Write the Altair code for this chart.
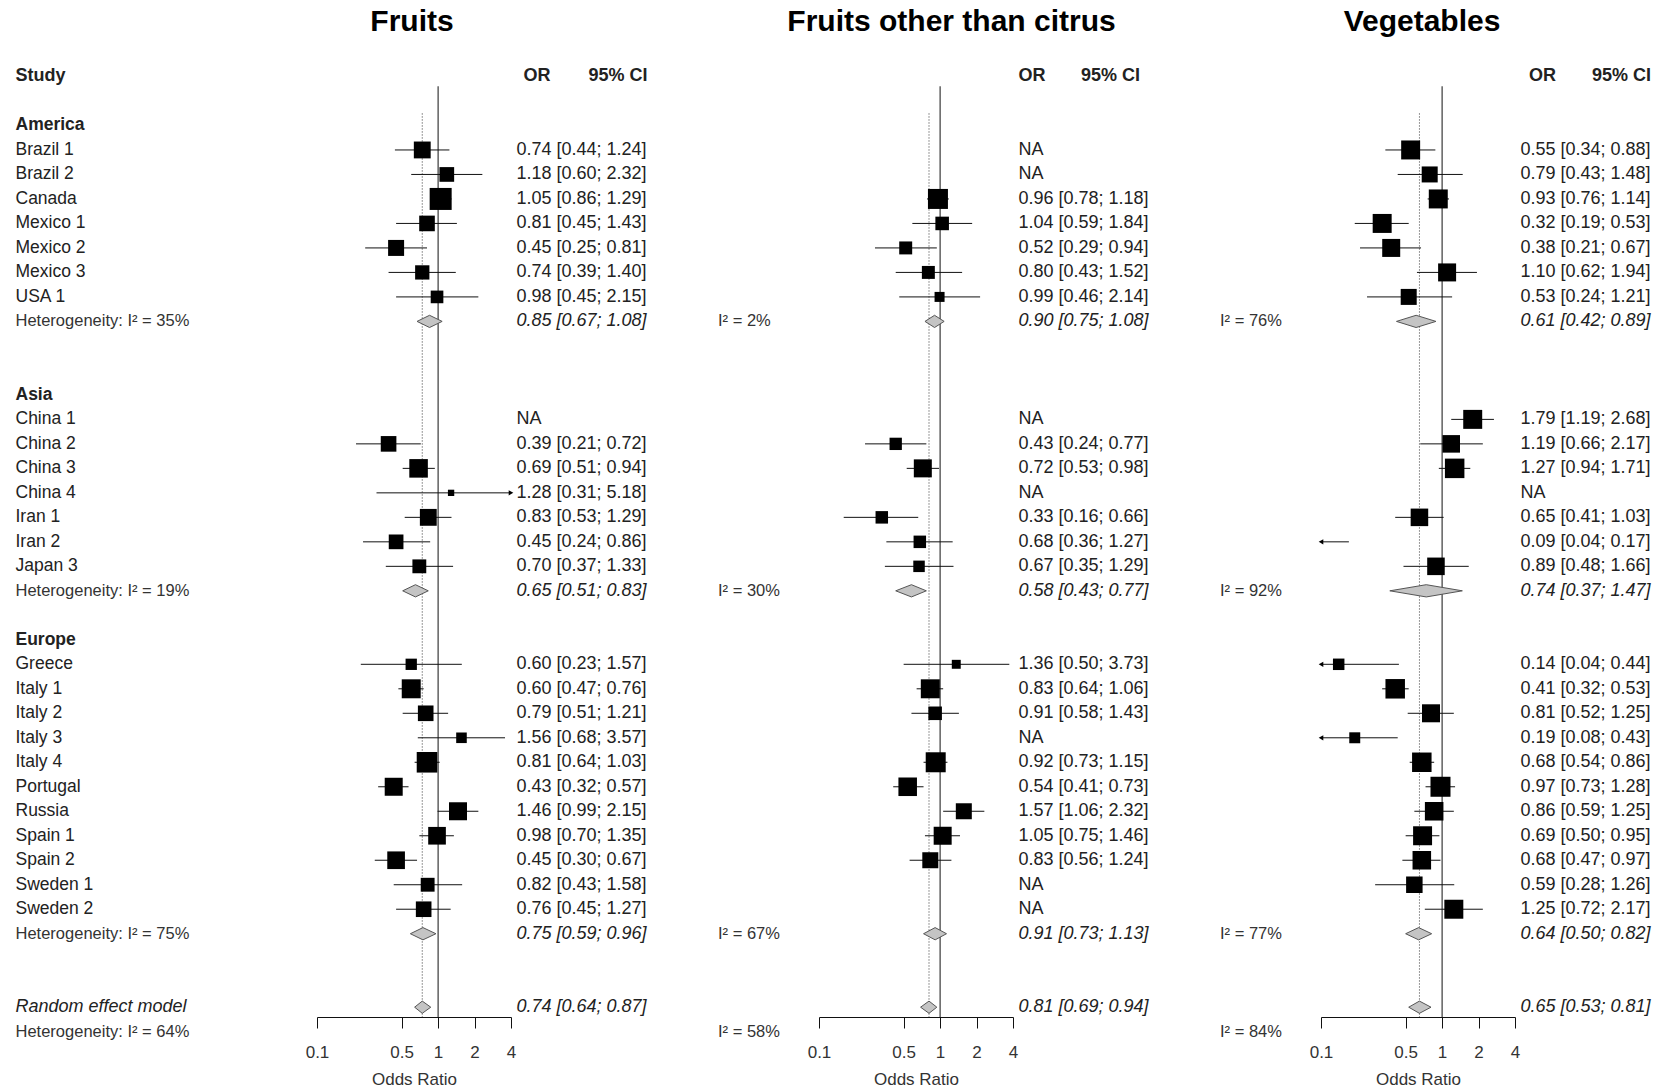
import altair as alt
import pandas as pd

FONT = "Liberation Sans"

PANELS = ["Fruits", "Fruits other than citrus", "Vegetables"]
REGIONS = ["America", "Asia", "Europe"]
STUDIES = [
    ["Brazil 1", "Brazil 2", "Canada", "Mexico 1", "Mexico 2", "Mexico 3", "USA 1"],
    ["China 1", "China 2", "China 3", "China 4", "Iran 1", "Iran 2", "Japan 3"],
    ["Greece", "Italy 1", "Italy 2", "Italy 3", "Italy 4", "Portugal", "Russia",
     "Spain 1", "Spain 2", "Sweden 1", "Sweden 2"],
]
N = None

# ---- Fruits ----
fr_or = [0.74, 1.18, 1.05, 0.81, 0.45, 0.74, 0.98,
         N, 0.39, 0.69, 1.28, 0.83, 0.45, 0.70,
         0.60, 0.60, 0.79, 1.56, 0.81, 0.43, 1.46, 0.98, 0.45, 0.82, 0.76]
fr_lo = [0.44, 0.60, 0.86, 0.45, 0.25, 0.39, 0.45,
         N, 0.21, 0.51, 0.31, 0.53, 0.24, 0.37,
         0.23, 0.47, 0.51, 0.68, 0.64, 0.32, 0.99, 0.70, 0.30, 0.43, 0.45]
fr_hi = [1.24, 2.32, 1.29, 1.43, 0.81, 1.40, 2.15,
         N, 0.72, 0.94, 5.18, 1.29, 0.86, 1.33,
         1.57, 0.76, 1.21, 3.57, 1.03, 0.57, 2.15, 1.35, 0.67, 1.58, 1.27]
fr_w = [7.1, 5.4, 12.1, 6.1, 6.4, 5.1, 4.0,
        N, 6.1, 8.6, 1.0, 7.1, 5.4, 4.8,
        3.2, 9.0, 6.1, 2.8, 10.6, 8.1, 8.1, 7.8, 7.8, 4.8, 6.1]
fr_pool = [(0.85, 0.67, 1.08), (0.65, 0.51, 0.83), (0.75, 0.59, 0.96)]
fr_i2 = [35, 19, 75]
fr_overall = (0.74, 0.64, 0.87)
fr_overall_i2 = 64

# ---- Fruits other than citrus ----
fo_or = [N, N, 0.96, 1.04, 0.52, 0.80, 0.99,
         N, 0.43, 0.72, N, 0.33, 0.68, 0.67,
         1.36, 0.83, 0.91, N, 0.92, 0.54, 1.57, 1.05, 0.83, N, N]
fo_lo = [N, N, 0.78, 0.59, 0.29, 0.43, 0.46,
         N, 0.24, 0.53, N, 0.16, 0.36, 0.35,
         0.50, 0.64, 0.58, N, 0.73, 0.41, 1.06, 0.75, 0.56, N, N]
fo_hi = [N, N, 1.18, 1.84, 0.94, 1.52, 2.14,
         N, 0.77, 0.98, N, 0.66, 1.27, 1.29,
         3.73, 1.06, 1.43, N, 1.15, 0.73, 2.32, 1.46, 1.24, N, N]
fo_w = [N, N, 10.0, 4.6, 4.2, 4.2, 2.5,
        N, 3.8, 8.1, N, 3.9, 3.9, 3.3,
        2.0, 9.0, 4.6, N, 10.0, 8.6, 6.4, 8.1, 6.4, N, N]
fo_pool = [(0.90, 0.75, 1.08), (0.58, 0.43, 0.77), (0.91, 0.73, 1.13)]
fo_i2 = [2, 30, 67]
fo_overall = (0.81, 0.69, 0.94)
fo_overall_i2 = 58

# ---- Vegetables ----
vg_or = [0.55, 0.79, 0.93, 0.32, 0.38, 1.10, 0.53,
         1.79, 1.19, 1.27, N, 0.65, 0.09, 0.89,
         0.14, 0.41, 0.81, 0.19, 0.68, 0.97, 0.86, 0.69, 0.68, 0.59, 1.25]
vg_lo = [0.34, 0.43, 0.76, 0.19, 0.21, 0.62, 0.24,
         1.19, 0.66, 0.94, N, 0.41, 0.04, 0.48,
         0.04, 0.32, 0.52, 0.08, 0.54, 0.73, 0.59, 0.50, 0.47, 0.28, 0.72]
vg_hi = [0.88, 1.48, 1.14, 0.53, 0.67, 1.94, 1.21,
         2.68, 2.17, 1.71, N, 1.03, 0.17, 1.66,
         0.44, 0.53, 1.25, 0.43, 0.86, 1.28, 1.25, 0.95, 0.97, 1.26, 2.17]
vg_w = [9.0, 6.4, 9.0, 9.0, 8.1, 8.1, 6.4,
        9.0, 7.7, 9.5, N, 7.7, 7.0, 7.7,
        3.3, 9.5, 8.1, 3.0, 9.5, 10.0, 8.6, 9.0, 8.6, 6.8, 9.0]
vg_pool = [(0.61, 0.42, 0.89), (0.74, 0.37, 1.47), (0.64, 0.50, 0.82)]
vg_i2 = [76, 92, 77]
vg_overall = (0.65, 0.53, 0.81)
vg_overall_i2 = 84

DATA = [
    (fr_or, fr_lo, fr_hi, fr_w, fr_pool, fr_i2, fr_overall, fr_overall_i2),
    (fo_or, fo_lo, fo_hi, fo_w, fo_pool, fo_i2, fo_overall, fo_overall_i2),
    (vg_or, vg_lo, vg_hi, vg_w, vg_pool, vg_i2, vg_overall, vg_overall_i2),
]

# layout (pixel offsets relative to each panel's plot area, and row structure)
GAPS = [0, 2, 1]
XMIN, XMAX = 0.1, 4.0
Y_MIN, Y_MAX = -5.0, 36.4
PW, PH = 194, 1014
TITLE_DX = [95, 132.5, 101]
OR_HDR_DX = [206.5, 199.5, 208]
CI_HDR_DX = [330.5, 321, 330]
TXT_DX = 199.5
LABEL_DX = -301.5
HET_DX = -101


def fmt(o, l, h):
    if o is None:
        return "NA"
    return f"{o:.2f} [{l:.2f}; {h:.2f}]"


def build_rows(k):
    o, lo, hi, w, pool, i2, overall, overall_i2 = DATA[k]
    srows, prow, hrows = [], [], []
    r = 0
    idx = 0
    for gi, reg in enumerate(REGIONS):
        if gi > 0:
            r += 1 + GAPS[gi]
        hrows.append({"row": r, "t": reg})
        for s in STUDIES[gi]:
            r += 1
            srows.append({"row": r, "study": s, "or_": o[idx], "lo": lo[idx],
                          "hi": hi[idx], "w": w[idx],
                          "txt": fmt(o[idx], lo[idx], hi[idx])})
            idx += 1
        r += 1
        p = pool[gi]
        het = (f"Heterogeneity: I² = {i2[gi]}%" if k == 0 else f"I² = {i2[gi]}%")
        prow.append({"row": r, "or_": p[0], "lo": p[1], "hi": p[2],
                     "txt": fmt(*p), "het": het, "lab": ""})
    r += 3
    het = (f"Heterogeneity: I² = {overall_i2}%" if k == 0 else f"I² = {overall_i2}%")
    prow.append({"row": r, "or_": overall[0], "lo": overall[1], "hi": overall[2],
                 "txt": fmt(*overall), "het": "", "lab": "Random effect model"})
    het_overall = {"row": r + 1, "het": het}
    return pd.DataFrame(srows), pd.DataFrame(prow), pd.DataFrame(hrows), het_overall


XS = alt.Scale(type="log", domain=[XMIN, XMAX], nice=False)
YS = alt.Scale(domain=[Y_MIN, Y_MAX], reverse=True, nice=False, zero=False)
XAXIS = alt.Axis(values=[0.1, 0.5, 1, 2, 4], format="~g", grid=False,
                 domainColor="#111", tickColor="#111", tickSize=11,
                 labelFontSize=17, labelColor="#333", labelPadding=16,
                 labelFont=FONT, labelFlush=False, labelOverlap=False,
                 title="Odds Ratio", titleFont=FONT, titleFontSize=17,
                 titleFontWeight="normal", titleColor="#333", titlePadding=11)


def X(f):
    return alt.X(f, type="quantitative", scale=XS, axis=XAXIS)


def Y(f):
    return alt.Y(f, type="quantitative", scale=YS, axis=None)


def text_layer(df, field, dx, size=17.5, weight="normal", style="normal",
               align="left", color="#222"):
    return alt.Chart(df).mark_text(
        font=FONT, fontSize=size, fontWeight=weight, fontStyle=style,
        align=align, baseline="middle", color=color
    ).encode(x=alt.value(dx), y=Y("row"), text=f"{field}:N")


def panel(k):
    sdf, pdf, hdf, het_overall = build_rows(k)
    overall_or = DATA[k][6][0]
    layers = []

    vl = pd.DataFrame({"x": [1.0], "y1": [-1.6], "y2": [Y_MAX]})
    layers.append(alt.Chart(vl).mark_rule(color="#111", strokeWidth=1)
                  .encode(x=X("x"), y=Y("y1"), y2="y2"))
    dl = pd.DataFrame({"x": [overall_or], "y1": [-0.5], "y2": [Y_MAX]})
    layers.append(alt.Chart(dl).mark_rule(color="#777", strokeWidth=1,
                                          strokeDash=[1.5, 1.5])
                  .encode(x=X("x"), y=Y("y1"), y2="y2"))

    ci = sdf.dropna(subset=["or_"]).copy()
    ci["lo_c"] = ci["lo"].clip(lower=XMIN, upper=XMAX)
    ci["hi_c"] = ci["hi"].clip(lower=XMIN, upper=XMAX)
    layers.append(alt.Chart(ci).mark_rule(color="#111", strokeWidth=1)
                  .encode(x=X("lo_c"), x2="hi_c", y=Y("row")))

    sq = ci[(ci["or_"] >= XMIN) & (ci["or_"] <= XMAX)]
    layers.append(alt.Chart(sq).mark_square(color="black", opacity=1)
                  .encode(x=X("or_"), y=Y("row"),
                          size=alt.Size("w:Q", scale=alt.Scale(domain=[0, 10], range=[0, 400]),
                                        legend=None)))

    left = ci[ci["lo"] < XMIN]
    if len(left):
        layers.append(alt.Chart(left).mark_point(shape="triangle-left", filled=True,
                                                 color="black", opacity=1, size=28)
                      .encode(x=X("lo_c"), y=Y("row")))
    right = ci[ci["hi"] > XMAX]
    if len(right):
        layers.append(alt.Chart(right).mark_point(shape="triangle-right", filled=True,
                                                  color="black", opacity=1, size=28)
                      .encode(x=X("hi_c"), y=Y("row")))

    dm = []
    h = 0.25
    for i, p in pdf.iterrows():
        dm.append({"id": i, "x": p["lo"], "ya": p["row"], "yb": p["row"]})
        dm.append({"id": i, "x": p["or_"], "ya": p["row"] - h, "yb": p["row"] + h})
        dm.append({"id": i, "x": p["hi"], "ya": p["row"], "yb": p["row"]})
    dm = pd.DataFrame(dm)
    layers.append(alt.Chart(dm).mark_area(fill="#c4c4c4", stroke="#555", strokeWidth=1,
                                          orient="vertical", opacity=1)
                  .encode(x=X("x"), y=Y("ya"), y2="yb", detail="id:N"))

    # texts
    layers.append(text_layer(pd.DataFrame({"row": [-4.23], "t": [PANELS[k]]}), "t",
                             TITLE_DX[k], size=30, weight="bold", align="center",
                             color="black"))
    layers.append(text_layer(pd.DataFrame({"row": [-2.0], "t": ["OR"]}), "t",
                             OR_HDR_DX[k], size=18, weight="bold"))
    layers.append(text_layer(pd.DataFrame({"row": [-2.0], "t": ["95% CI"]}), "t",
                             CI_HDR_DX[k], size=18, weight="bold", align="right"))
    layers.append(text_layer(sdf, "txt", TXT_DX, size=18))
    layers.append(text_layer(pdf, "txt", TXT_DX, size=18, style="italic"))

    het_df = pd.concat([pdf[pdf["het"] != ""][["row", "het"]],
                        pd.DataFrame([het_overall])], ignore_index=True)
    het_dx = LABEL_DX if k == 0 else HET_DX
    layers.append(text_layer(het_df, "het", het_dx, size=16.5, color="#333"))

    if k == 0:
        layers.append(text_layer(pd.DataFrame({"row": [-2.0], "t": ["Study"]}), "t",
                                 LABEL_DX, size=18, weight="bold"))
        layers.append(text_layer(hdf, "t", LABEL_DX, size=17.5, weight="bold"))
        layers.append(text_layer(sdf, "study", LABEL_DX, size=17.5))
        layers.append(text_layer(pdf[pdf["lab"] != ""], "lab", LABEL_DX, size=18,
                                 style="italic"))

    return alt.layer(*layers).properties(width=PW, height=PH)


chart = alt.hconcat(panel(0), panel(1), panel(2), spacing=308, bounds="flush").properties(
    padding={"left": 15, "top": 3, "right": 5, "bottom": 0}
).configure_view(stroke=None)

chart.save("out.html", embed_options={"renderer": "svg", "actions": False})
